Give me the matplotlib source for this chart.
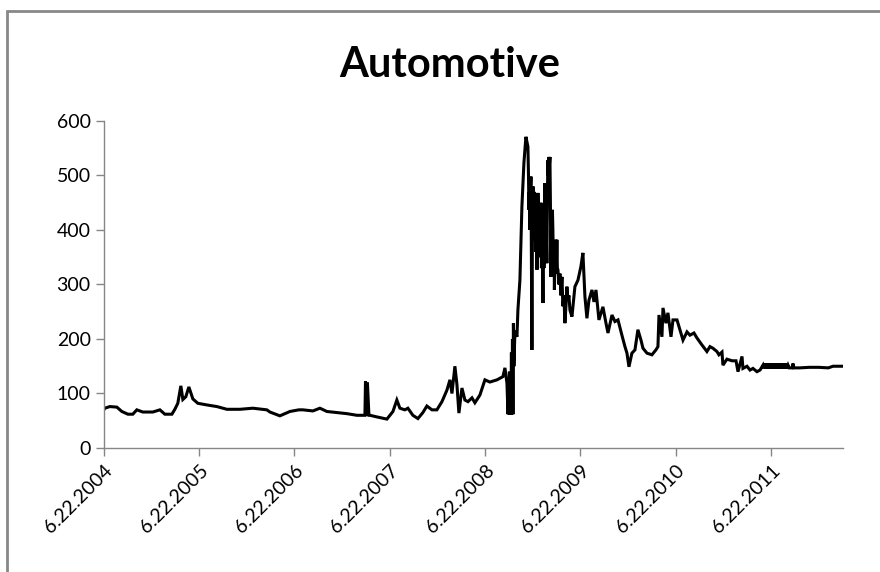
import matplotlib.pyplot as plt
from matplotlib.patches import Rectangle

# years elapsed since 6.22.2004
years = [
    0.000, 0.010, 0.063, 0.136, 0.189, 0.252, 0.304, 0.346, 0.409, 0.514,
    0.588, 0.640, 0.714, 0.745, 0.776, 0.808, 0.829, 0.860, 0.892, 0.934,
    0.986, 1.081, 1.186, 1.291, 1.427, 1.563, 1.710, 1.742, 1.847, 1.952,
    2.046, 2.088, 2.193, 2.267, 2.340, 2.445, 2.550, 2.655, 2.739, 2.745,
    2.755, 2.765, 2.781, 2.791, 2.865, 2.970, 3.033, 3.074, 3.106, 3.158,
    3.190, 3.242, 3.295, 3.347, 3.389, 3.442, 3.494, 3.547, 3.599, 3.631,
    3.652, 3.683, 3.704, 3.725, 3.757, 3.788, 3.820, 3.862, 3.893, 3.945,
    3.998, 4.050, 4.124, 4.187, 4.208, 4.229,
    4.240, 4.245, 4.250, 4.255, 4.260, 4.266, 4.271, 4.276, 4.281, 4.287,
    4.292, 4.297, 4.302, 4.313,
    4.334, 4.344, 4.365, 4.386, 4.407, 4.428, 4.449, 4.455, 4.460, 4.465,
    4.470, 4.476, 4.481, 4.486, 4.491, 4.497, 4.502, 4.508, 4.513, 4.518,
    4.523, 4.528, 4.533, 4.539, 4.544, 4.549, 4.554, 4.560, 4.565, 4.570,
    4.575, 4.581, 4.586, 4.591, 4.596, 4.601, 4.607, 4.612, 4.617, 4.622,
    4.628, 4.633, 4.638, 4.643, 4.648, 4.654, 4.659, 4.664, 4.669, 4.675,
    4.680, 4.685, 4.690, 4.695, 4.701, 4.706, 4.711, 4.716, 4.722, 4.727,
    4.732, 4.737, 4.742, 4.748, 4.753, 4.758, 4.764, 4.775, 4.785, 4.795,
    4.806, 4.816, 4.827, 4.837, 4.848, 4.858, 4.869, 4.879, 4.890,
    4.911, 4.942, 4.974, 5.005, 5.026, 5.047, 5.068, 5.089, 5.121, 5.142,
    5.163, 5.194, 5.226, 5.236, 5.268, 5.289, 5.331, 5.362, 5.394, 5.435,
    5.467, 5.488, 5.509, 5.540, 5.572, 5.603, 5.635, 5.656, 5.698, 5.750,
    5.792, 5.813, 5.824, 5.855, 5.866, 5.897, 5.918, 5.950, 5.971, 6.013,
    6.044, 6.076, 6.118, 6.149, 6.191, 6.222, 6.275, 6.327, 6.359, 6.390,
    6.432, 6.453, 6.485, 6.495, 6.537, 6.590, 6.632, 6.653, 6.695, 6.705,
    6.747, 6.779, 6.810, 6.852, 6.884, 6.915,
    6.925, 6.935, 6.945, 6.955, 6.965, 6.975, 6.985, 6.995, 7.005, 7.015,
    7.025, 7.035, 7.045, 7.055, 7.065, 7.075, 7.085, 7.095, 7.105, 7.115,
    7.125, 7.135, 7.145, 7.155, 7.165, 7.178,
    7.190, 7.220, 7.230, 7.240, 7.303, 7.400, 7.500, 7.600, 7.650, 7.660,
    7.755,
]
values = [
    70, 73, 76, 75, 67, 62, 62, 70, 66, 66,
    70, 62, 62, 71, 82, 114, 89, 94, 112, 90,
    82, 79, 76, 71, 71, 73, 70, 66, 59, 67,
    70, 70, 68, 73, 67, 65, 63, 60, 60, 122,
    60, 120, 60, 60, 57, 53, 67, 88, 73, 70,
    73, 60, 54, 65, 77, 70, 70, 85, 106, 125,
    100, 150, 117, 64, 110, 88, 85, 92, 83, 97,
    125, 121, 125, 131, 147, 119,
    62, 125, 62, 140, 62, 130, 62, 175, 62, 200,
    62, 229, 150, 215,
    204, 253, 308, 443, 523, 571, 553, 500, 437, 470,
    400, 470, 498, 350, 180, 420, 480, 380, 470, 400,
    468, 420, 360, 440, 327, 390, 468, 430, 350, 410,
    376, 360, 450, 330, 424, 380, 266, 420, 330, 440,
    486, 400, 470, 380, 339, 470, 528, 500, 534, 520,
    534, 450, 314, 400, 380, 437, 400, 340, 380, 290,
    350, 320, 382, 340, 382, 330, 327, 300, 320, 280,
    314, 260, 280, 229, 260, 296, 270, 280, 253,
    241, 296, 308, 333, 358, 278, 238, 271, 290, 268,
    290, 235, 253, 259, 229, 211, 244, 232, 235, 207,
    186, 174, 149, 174, 180, 217, 198, 183, 174, 171,
    180, 186, 244, 204, 257, 229, 248, 204, 235, 235,
    217, 198, 213, 207, 211, 202, 189, 177, 186, 183,
    177, 171, 176, 152, 163, 160, 160, 140, 168, 146,
    150, 143, 146, 140, 143, 152,
    146, 155, 146, 155, 146, 155, 146, 155, 146, 155,
    146, 155, 146, 155, 146, 155, 146, 155, 146, 155,
    146, 155, 146, 155, 146, 152,
    147, 147, 155, 147, 147, 148, 148, 147, 150, 150,
    150,
]
tick_labels = ['6.22.2004', '6.22.2005', '6.22.2006', '6.22.2007',
               '6.22.2008', '6.22.2009', '6.22.2010', '6.22.2011']

fig = plt.figure(figsize=(8.8, 5.72), dpi=100)
ax = fig.add_axes([0.118, 0.2168, 0.840, 0.5717])

ax.plot(years, values, color='black', linewidth=2.2, solid_joinstyle='miter')

ax.set_xlim(0, 7.755)
ax.set_ylim(0, 600)
ax.set_yticks(range(0, 601, 100))
ax.set_xticks(range(len(tick_labels)))
ax.set_xticklabels(tick_labels, rotation=45, ha='right', rotation_mode='anchor')

for side in ['top', 'right']:
    ax.spines[side].set_visible(False)
for side in ['left', 'bottom']:
    ax.spines[side].set_color('#868686')
    ax.spines[side].set_linewidth(1.0)
ax.tick_params(axis='both', colors='#868686', labelcolor='black',
               labelsize=14, length=6, width=1.0, direction='out')
ax.tick_params(axis='x', pad=4)
for lab in ax.get_xticklabels() + ax.get_yticklabels():
    lab.set_family('Lato')

# title centred on the whole chart, not on the plot area
fig.text(450 / 880, 1 - 65 / 572, 'Automotive', fontsize=30, fontweight='bold',
         family='Lato', ha='center', va='center')

# outer chart border
fig.patches.append(Rectangle((7 / 880, -0.1), 1.2, 1 - 11 / 572 + 0.1,
                             transform=fig.transFigure, fill=False,
                             edgecolor='#888888', linewidth=2.0))

fig.savefig('out.png', dpi=100)
